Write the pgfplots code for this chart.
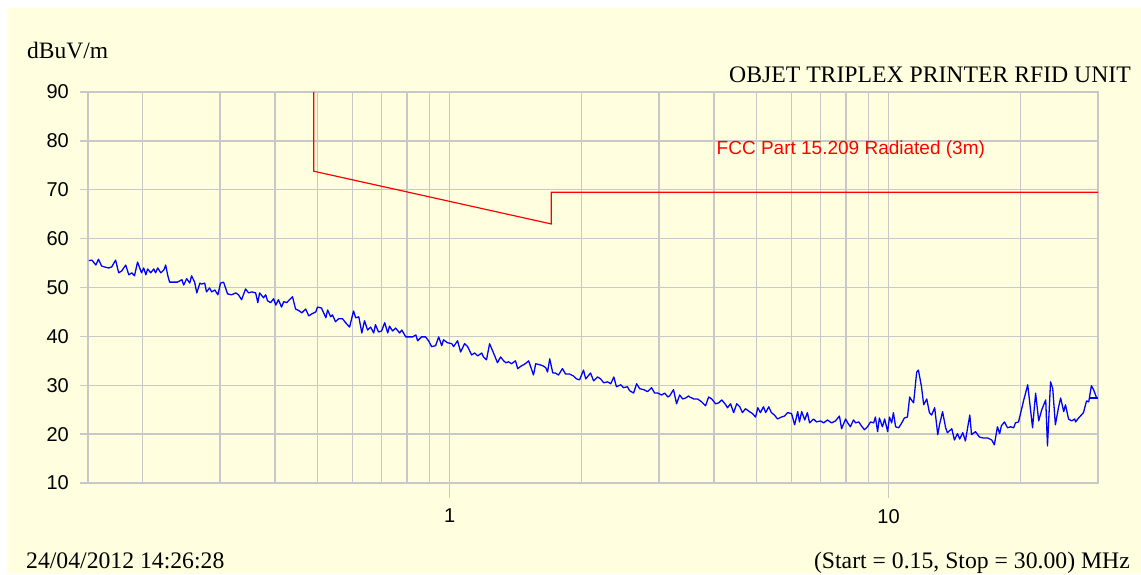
\documentclass[border=0pt]{standalone}
\usepackage{pgfplots}
\usepackage{pgfplotstable}
\usepackage{fontspec}
\pgfplotsset{compat=1.18}
\setmainfont{Liberation Serif}
\setsansfont{Liberation Sans}
\definecolor{bgyellow}{RGB}{255,255,224}
\definecolor{gridgray}{RGB}{200,200,200}

% x = log10(frequency / MHz), y = level in dBuV/m
\pgfplotstableread{
lf y
-0.822 55.5
-0.815 55.6
-0.806 54.6
-0.800 55.8
-0.793 54.4
-0.786 54.2
-0.777 54.0
-0.770 54.2
-0.761 55.6
-0.754 53.0
-0.747 53.4
-0.738 54.6
-0.731 52.6
-0.724 53.0
-0.718 52.4
-0.711 55.2
-0.702 53.0
-0.697 54.0
-0.692 52.6
-0.688 53.8
-0.681 53.0
-0.674 53.8
-0.670 53.0
-0.665 54.0
-0.658 53.0
-0.651 53.6
-0.647 54.6
-0.642 52.4
-0.638 51.1
-0.629 51.1
-0.620 51.1
-0.610 51.6
-0.606 50.5
-0.599 51.8
-0.592 50.9
-0.588 52.4
-0.581 51.1
-0.576 48.9
-0.569 50.9
-0.565 50.7
-0.558 50.9
-0.554 49.1
-0.547 49.9
-0.542 49.1
-0.535 49.5
-0.528 48.5
-0.522 50.9
-0.515 51.1
-0.506 48.7
-0.497 48.5
-0.487 48.9
-0.481 48.5
-0.474 47.5
-0.465 49.7
-0.458 48.9
-0.451 49.1
-0.442 48.9
-0.437 46.9
-0.433 48.9
-0.424 47.9
-0.419 48.5
-0.415 47.3
-0.408 46.9
-0.401 47.7
-0.396 46.4
-0.390 47.5
-0.383 46.0
-0.378 47.1
-0.371 46.9
-0.367 47.3
-0.358 48.1
-0.351 45.6
-0.342 45.2
-0.337 44.8
-0.328 45.6
-0.321 44.2
-0.314 44.6
-0.305 45.0
-0.301 46.0
-0.292 45.8
-0.282 43.8
-0.278 45.4
-0.271 44.0
-0.267 44.4
-0.260 43.0
-0.253 43.6
-0.244 43.6
-0.237 42.8
-0.228 41.9
-0.219 45.2
-0.214 43.8
-0.207 44.0
-0.200 40.7
-0.194 43.2
-0.187 41.3
-0.180 41.9
-0.173 40.7
-0.169 42.4
-0.162 40.9
-0.155 41.1
-0.148 42.8
-0.141 40.7
-0.137 42.1
-0.130 41.1
-0.123 41.7
-0.114 40.7
-0.109 41.3
-0.100 39.9
-0.091 39.9
-0.084 39.9
-0.077 40.3
-0.073 39.1
-0.064 39.9
-0.055 39.9
-0.048 39.1
-0.041 37.9
-0.032 38.1
-0.025 39.9
-0.018 38.1
-0.014 39.3
-0.005 38.7
0.005 38.5
0.009 37.9
0.018 39.1
0.025 36.8
0.034 38.5
0.041 37.9
0.050 36.2
0.057 36.6
0.064 36.0
0.073 36.6
0.077 35.8
0.084 35.2
0.091 38.5
0.100 36.6
0.109 34.6
0.116 35.8
0.123 35.0
0.128 34.6
0.134 34.8
0.141 34.4
0.150 35.0
0.155 33.4
0.164 34.0
0.169 34.2
0.175 34.6
0.180 35.0
0.191 32.1
0.196 34.4
0.205 34.2
0.212 34.0
0.219 33.6
0.223 32.7
0.228 35.4
0.235 32.5
0.241 32.5
0.248 32.1
0.257 33.4
0.264 32.3
0.273 32.3
0.282 31.9
0.289 31.3
0.296 31.1
0.305 33.1
0.310 31.3
0.321 32.5
0.328 30.9
0.337 31.7
0.344 31.3
0.351 30.5
0.360 30.7
0.367 30.3
0.374 31.7
0.380 29.7
0.390 30.1
0.396 29.5
0.405 29.7
0.410 28.9
0.419 28.4
0.426 30.3
0.433 29.3
0.442 29.1
0.451 28.7
0.460 29.5
0.467 28.4
0.474 28.4
0.483 28.0
0.490 28.4
0.497 27.6
0.501 27.8
0.510 29.1
0.517 26.2
0.524 28.0
0.531 27.2
0.538 27.4
0.544 27.8
0.547 27.6
0.556 27.2
0.565 27.2
0.574 26.6
0.583 25.8
0.590 27.6
0.597 27.2
0.606 26.2
0.613 26.4
0.620 27.0
0.629 26.0
0.633 25.4
0.640 26.2
0.647 24.4
0.654 26.2
0.661 25.6
0.667 24.4
0.674 25.2
0.683 24.6
0.690 24.2
0.697 23.5
0.702 25.4
0.708 24.4
0.715 25.6
0.720 24.4
0.727 25.6
0.733 24.4
0.740 23.9
0.747 23.1
0.756 23.5
0.763 23.7
0.770 24.4
0.779 24.2
0.786 21.9
0.793 24.6
0.797 22.5
0.802 24.6
0.809 22.9
0.815 24.4
0.820 22.3
0.829 23.1
0.836 22.5
0.845 22.7
0.852 22.3
0.861 22.9
0.870 22.3
0.879 22.7
0.888 23.7
0.893 21.1
0.902 23.1
0.907 22.3
0.913 21.5
0.920 22.9
0.925 22.3
0.932 22.5
0.938 21.7
0.945 20.9
0.952 21.5
0.959 22.5
0.966 22.3
0.970 23.5
0.975 20.5
0.979 23.3
0.986 21.5
0.991 23.1
0.998 20.5
1.002 23.5
1.007 22.3
1.011 24.4
1.016 21.5
1.023 21.3
1.030 22.3
1.036 23.3
1.043 23.5
1.048 27.6
1.052 27.0
1.057 26.4
1.064 32.7
1.068 33.1
1.075 29.7
1.080 26.0
1.087 27.2
1.093 24.4
1.098 23.9
1.105 25.4
1.112 19.9
1.116 21.9
1.123 24.6
1.130 21.3
1.134 20.3
1.144 21.1
1.150 18.8
1.157 20.1
1.162 19.0
1.169 20.3
1.175 18.6
1.185 23.9
1.189 19.9
1.198 20.5
1.207 19.4
1.216 19.2
1.226 19.2
1.235 18.8
1.241 17.8
1.248 21.5
1.253 20.1
1.257 21.7
1.264 22.5
1.271 21.3
1.278 21.5
1.285 21.3
1.289 22.3
1.296 22.5
1.308 27.0
1.317 30.1
1.328 21.3
1.335 28.4
1.342 22.7
1.349 25.0
1.358 27.0
1.362 17.6
1.369 30.7
1.374 29.3
1.380 21.9
1.387 25.4
1.392 27.4
1.399 24.6
1.403 26.0
1.410 23.1
1.417 22.7
1.424 23.1
1.426 22.5
1.433 23.3
1.444 24.4
1.451 26.8
1.456 26.6
1.462 29.9
1.467 29.1
1.474 27.4
1.477 27.4
}\trace

% FCC Part 15.209 radiated limit at 3 m
\pgfplotstableread{
lf y
-0.3098 90.0
-0.3098 73.8
0.2317 63.0
0.2317 69.5
1.4771 69.5
}\limitline

\begin{document}
\begin{tikzpicture}
\useasboundingbox (0pt,0pt) rectangle (1141pt,574pt);
\fill[white] (0pt,0pt) rectangle (1141pt,574pt);
\fill[bgyellow] (7pt,0pt) rectangle (1141pt,566pt);
\begin{axis}[
  at={(88pt,91pt)}, anchor=south west,
  width=1010pt, height=391pt, scale only axis,
  xmin=-0.82391, xmax=1.47712, ymin=10, ymax=90,
  ytick={10,20,...,90},
  xtick={0,1}, xticklabels={1,10},
  extra x ticks={-0.69897,-0.52288,-0.39794,-0.30103,-0.22185,-0.15490,-0.09691,-0.04576,0.30103,0.47712,0.60206,0.69897,0.77815,0.84510,0.90309,0.95424,1.30103},
  extra x tick labels={},
  extra x tick style={major tick length=0pt},
  xtick pos=left, ytick pos=left,
  grid=major,
  major grid style={gridgray, line width=1.3pt},
  axis line style={gridgray, line width=1.3pt},
  tick style={gridgray, line width=1.3pt},
  tick align=outside, major tick length=8pt,
  /pgf/number format/assume math mode=true,
  ticklabel style={font=\sffamily\fontsize{20}{24}\selectfont, text=black},
  yticklabel style={anchor=east, inner sep=0pt, xshift=-11pt},
  xticklabel style={anchor=north, inner sep=0pt, yshift=-18pt},
  clip=false,
]
\addplot[red, line width=1.2pt] table[x=lf, y=y] {\limitline};
\addplot[blue, line width=1.3pt, line join=round] table[x=lf, y=y] {\trace};
\addplot[blue, line width=1.3pt] coordinates {(1.460,27.4) (1.477,27.4)};
\draw[gridgray, line width=1.3pt] (axis cs:0,10) -- ++(0pt,-15pt);
\draw[gridgray, line width=1.3pt] (axis cs:1,10) -- ++(0pt,-15pt);
\node[anchor=base west, inner sep=0pt, text=red, font=\sffamily\fontsize{19}{23}\selectfont] at (axis cs:0.608,77.3) {FCC Part 15.209 Radiated (3m)};
\end{axis}
\node[anchor=base west, inner sep=0pt, font=\fontsize{23.5}{27}\selectfont] at (27pt,515pt) {dBuV/m};
\node[anchor=base east, inner sep=0pt, font=\fontsize{23.7}{27}\selectfont] at (1131pt,491.7pt) {OBJET TRIPLEX PRINTER RFID UNIT};
\node[anchor=base west, inner sep=0pt, font=\fontsize{23.7}{27}\selectfont] at (26pt,5.5pt) {24/04/2012 14:26:28};
\node[anchor=base east, inner sep=0pt, font=\fontsize{23.7}{27}\selectfont] at (1130pt,5.5pt) {(Start = 0.15, Stop = 30.00) MHz};
\end{tikzpicture}
\end{document}
